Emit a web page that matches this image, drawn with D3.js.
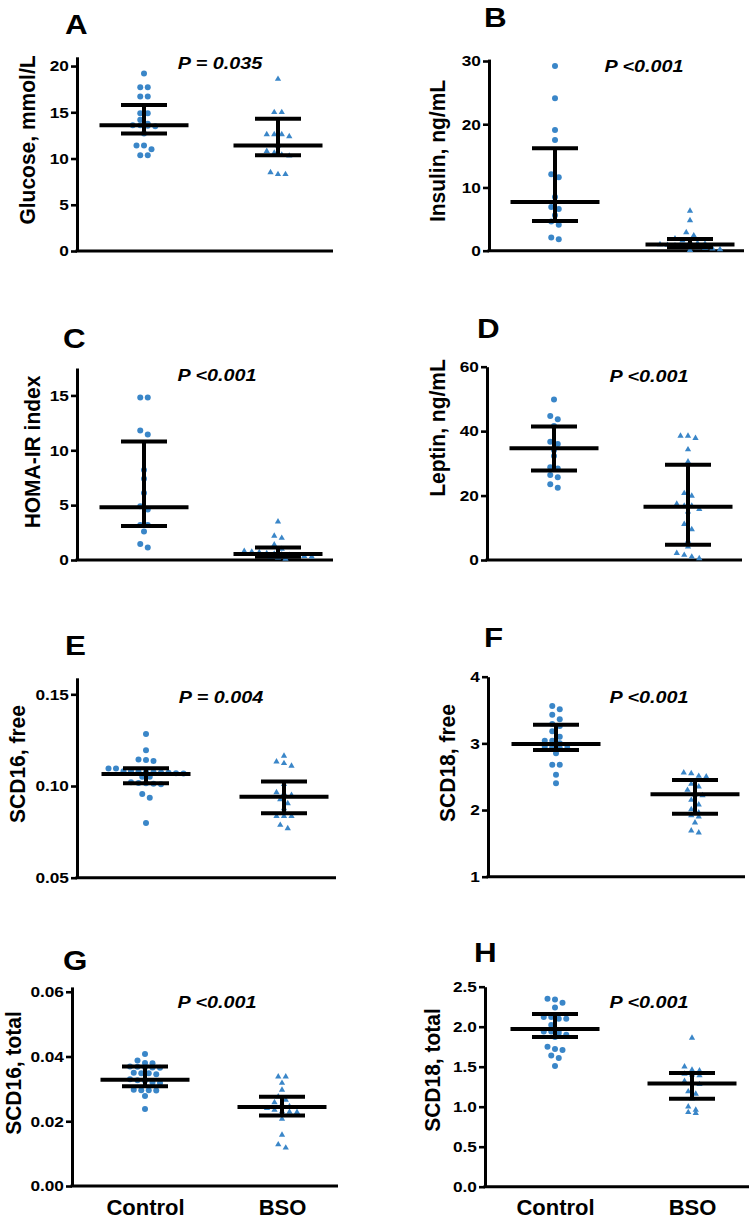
<!DOCTYPE html>
<html><head><meta charset="utf-8">
<script src="https://cdn.jsdelivr.net/npm/d3@7"></script>
<style>
body{margin:0;background:#fff}
svg{display:block}
text{font-family:"Liberation Sans",Arial,Helvetica,sans-serif;font-weight:bold;fill:#000}
</style>
</head><body>
<svg id="chart" width="754" height="1219"></svg>
<script>
// ---------- DATA ----------
const groups = ["Control", "BSO"];
const panelLetters = ["A", "B", "C", "D", "E", "F", "G", "H"];
const yTitles = ["Glucose, mmol/L", "Insulin, ng/mL", "HOMA-IR index", "Leptin, ng/mL",
                 "SCD16, free", "SCD18, free", "SCD16, total", "SCD18, total"];
const pTexts = ["P = 0.035", "P <0.001", "P <0.001", "P <0.001",
                "P = 0.004", "P <0.001", "P <0.001", "P <0.001"];
const yDomains = [[0, 21], [0, 30.3], [0, 17.5], [0, 60], [0.05, 0.159], [1, 4], [0, 0.0615], [0, 2.5]];
const yTickValues = [[0, 5, 10, 15, 20], [0, 10, 20, 30], [0, 5, 10, 15], [0, 20, 40, 60],
                     [0.05, 0.10, 0.15], [1, 2, 3, 4], [0, 0.02, 0.04, 0.06], [0, 0.5, 1.0, 1.5, 2.0, 2.5]];
const yTickFormats = ["d", "d", "d", "d", ".2f", "d", ".2f", ".1f"];

// Individual values, Control / BSO
const glucoseControl = [19.2, 17.7, 17.7, 16.7, 16.7, 14.9, 14.9, 14.2, 13.75, 13.6, 13.55, 13.6, 13.5, 12.7, 11.4, 11.4, 11.0, 10.35, 10.35];
const glucoseBSO = [18.6, 15.0, 15.0, 12.6, 12.6, 12.6, 12.4, 11.4, 10.8, 10.6, 10.4, 10.3, 8.5, 8.3, 8.3];
const insulinControl = [29.2, 24.1, 19.1, 17.5, 12.1, 11.6, 8.5, 6.9, 6.6, 5.6, 4.6, 4.1, 2.1, 1.8];
const insulinBSO = [6.3, 4.8, 2.9, 2.4, 1.9, 1.6, 1.4, 1.2, 1.1, 1.0, 0.9, 0.8, 0.7, 0.6, 0.5, 0.4, 0.3, 0.2, 0.1];
const homaControl = [14.8, 14.8, 11.8, 11.45, 8.2, 7.4, 6.1, 4.9, 4.6, 3.2, 3.2, 2.6, 1.45, 1.15];
const homaBSO = [3.5, 2.2, 2.0, 1.4, 1.0, 0.8, 0.75, 0.7, 0.6, 0.55, 0.5, 0.45, 0.4, 0.35, 0.3, 0.25, 0.2, 0.1];
const leptinControl = [49.8, 44.7, 43.7, 41.6, 36.7, 36.0, 34.1, 32.3, 28.8, 28.4, 26.4, 25.7, 23.5, 22.4];
const leptinBSO = [38.5, 38.5, 37.8, 34.3, 30.5, 20.7, 19.9, 17.4, 16.8, 16.8, 15.8, 15.0, 11.1, 9.5, 5.9, 4.1, 2.1, 1.55, 1.0, 0.5];
const scd16FreeControl = [0.1284, 0.1195, 0.1145, 0.1142, 0.1136, 0.1096, 0.1096, 0.1080, 0.1080, 0.1078, 0.1077, 0.1075, 0.1074, 0.1072, 0.1070, 0.1068, 0.1050, 0.1050, 0.1020, 0.1017, 0.1015, 0.1012, 0.1010, 0.0956, 0.0936, 0.0798];
const scd16FreeBSO = [0.1164, 0.1133, 0.1124, 0.1110, 0.1010, 0.0965, 0.0960, 0.0950, 0.0927, 0.0905, 0.0878, 0.0836, 0.0836, 0.0836, 0.0787, 0.0769];
const scd18FreeControl = [3.56, 3.51, 3.43, 3.36, 3.29, 3.26, 3.18, 3.10, 3.04, 3.04, 3.00, 2.97, 2.95, 2.94, 2.93, 2.92, 2.85, 2.68, 2.68, 2.53, 2.40];
const scd18FreeBSO = [2.56, 2.55, 2.51, 2.50, 2.39, 2.35, 2.30, 2.23, 2.22, 2.15, 2.08, 2.01, 1.96, 1.92, 1.90, 1.81, 1.69, 1.66];
const scd16TotalControl = [0.0408, 0.0388, 0.0380, 0.0379, 0.0369, 0.0368, 0.0367, 0.0366, 0.0365, 0.0350, 0.0348, 0.0348, 0.0345, 0.0330, 0.0327, 0.0325, 0.0320, 0.0318, 0.0297, 0.0296, 0.0296, 0.0295, 0.0278, 0.0238];
const scd16TotalBSO = [0.0338, 0.0338, 0.0318, 0.0297, 0.0276, 0.0266, 0.0258, 0.0252, 0.0246, 0.0240, 0.0235, 0.0230, 0.0229, 0.0228, 0.0207, 0.0158, 0.0128, 0.0118];
const scd18TotalControl = [2.35, 2.34, 2.30, 2.24, 2.12, 2.12, 2.10, 2.10, 2.02, 1.96, 1.94, 1.94, 1.92, 1.90, 1.87, 1.75, 1.72, 1.71, 1.64, 1.61, 1.51];
const scd18TotalBSO = [1.86, 1.50, 1.46, 1.45, 1.41, 1.40, 1.39, 1.32, 1.30, 1.28, 1.19, 1.16, 1.10, 1.00, 0.96, 0.93, 0.92];

// Summary lines: [median, lower, upper] for Control and BSO
const summaryControl = [[13.6, 12.7, 15.8], [7.7, 4.7, 16.2], [4.8, 3.1, 10.8], [34.7, 27.8, 41.4],
                        [0.1065, 0.1015, 0.1097], [2.99, 2.90, 3.28], [0.0328, 0.0308, 0.0369], [1.97, 1.87, 2.16]];
const summaryBSO = [[11.4, 10.35, 14.3], [1.0, 0.55, 1.85], [0.55, 0.3, 1.15], [16.5, 4.7, 29.6],
                    [0.0942, 0.0851, 0.1024], [2.235, 1.945, 2.45], [0.0244, 0.0218, 0.0276], [1.29, 1.10, 1.42]];

const controlValues = [glucoseControl, insulinControl, homaControl, leptinControl,
                       scd16FreeControl, scd18FreeControl, scd16TotalControl, scd18TotalControl];
const bsoValues = [glucoseBSO, insulinBSO, homaBSO, leptinBSO,
                   scd16FreeBSO, scd18FreeBSO, scd16TotalBSO, scd18TotalBSO];

// ---------- LAYOUT (pixels) ----------
const layout = [
  {ax: 77,  axEnd: 333, c0: 144, c1: 278, yBot: 251,   yTop: 56.8,  lx: 65,  ly: 34,  px: 220, py: 68.5, tx: 35,  ty: 140},
  {ax: 489, axEnd: 744, c0: 555, c1: 690, yBot: 250.7, yTop: 59.1,  lx: 484, ly: 27,  px: 644, py: 72,   tx: 445, ty: 151},
  {ax: 77,  axEnd: 333, c0: 144, c1: 278, yBot: 560,   yTop: 368,   lx: 63,  ly: 348, px: 217, py: 381,  tx: 40,  ty: 452},
  {ax: 487, axEnd: 742, c0: 554, c1: 688, yBot: 560,   yTop: 366.7, lx: 477, ly: 338, px: 649, py: 382,  tx: 445, ty: 428},
  {ax: 77,  axEnd: 336, c0: 146, c1: 284, yBot: 877.7, yTop: 677.8, lx: 65,  ly: 655, px: 221, py: 703,  tx: 25,  ty: 764},
  {ax: 488, axEnd: 745, c0: 556, c1: 695, yBot: 876.7, yTop: 676.7, lx: 484, ly: 647, px: 649, py: 703,  tx: 455, ty: 763},
  {ax: 72,  axEnd: 338, c0: 145, c1: 282, yBot: 1186,  yTop: 986.9, lx: 63,  ly: 970, px: 217, py: 1008, tx: 21,  ty: 1073},
  {ax: 485, axEnd: 749, c0: 555, c1: 692, yBot: 1186.7,yTop: 986.7, lx: 474, ly: 962, px: 649, py: 1008, tx: 440, ty: 1070}
];

const dotColor = "#3a86c8";
const svg = d3.select("#chart");

// group points into rows by pixel proximity, then center each row (scatter dot plot)
function swarm(values, y, cx, step, thresh) {
  const pts = values.map(v => ({v, py: y(v)})).sort((a, b) => a.py - b.py);
  const rows = [];
  pts.forEach(p => {
    const r = rows[rows.length - 1];
    if (r && p.py - r[0].py < thresh) r.push(p); else rows.push([p]);
  });
  rows.forEach(r => r.forEach((p, i) => { p.px = cx + (i - (r.length - 1) / 2) * step; }));
  return pts;
}

panelLetters.forEach((letter, i) => {
  const L = layout[i];
  const g = svg.append("g");
  const y = d3.scaleLinear().domain(yDomains[i]).range([L.yBot, L.yTop]);
  const x = d3.scalePoint().domain(groups).range([L.c0, L.c1]);

  // panel letter
  g.append("text").attr("transform", `translate(${L.lx},${L.ly}) scale(1.12,1)`)
    .attr("font-size", 28).text(letter);

  // y axis
  const yAxis = d3.axisLeft(y).tickValues(yTickValues[i])
    .tickFormat(d3.format(yTickFormats[i])).tickSize(6).tickSizeOuter(0).tickPadding(1);
  const yg = g.append("g").attr("transform", `translate(${L.ax},0)`).call(yAxis);
  yg.select(".domain").attr("stroke", "#000").attr("stroke-width", 3);
  yg.selectAll(".tick line").attr("stroke", "#000").attr("stroke-width", 2.6);
  yg.selectAll(".tick text").attr("font-size", 15).attr("font-family", null)
    .attr("fill", "#000").attr("transform", "scale(1.15,1)");

  // x axis line
  g.append("line").attr("x1", L.ax - 1.5).attr("x2", L.axEnd)
    .attr("y1", L.yBot).attr("y2", L.yBot).attr("stroke", "#000").attr("stroke-width", 3);

  // category labels (bottom row only)
  if (i >= 6) {
    const xAxis = d3.axisBottom(x).tickSize(0).tickPadding(13);
    const xg = g.append("g").attr("transform", `translate(0,${L.yBot})`).call(xAxis);
    xg.select(".domain").remove();
    xg.selectAll(".tick text").attr("font-size", 22).attr("font-family", null).attr("fill", "#000");
  }

  // y title
  g.append("text").attr("transform", `translate(${L.tx},${L.ty}) rotate(-90) scale(1,1.08)`)
    .attr("text-anchor", "middle").attr("font-size", 21).text(yTitles[i]);

  // P value
  g.append("text").attr("transform", `translate(${L.px},${L.py}) scale(1.2,1)`)
    .attr("text-anchor", "middle").attr("font-size", 16.5).attr("font-style", "italic")
    .text(pTexts[i]);

  // points
  const ctrlPts = swarm(controlValues[i], y, x("Control"), 7.5, 5.5);
  const bsoPts = swarm(bsoValues[i], y, x("BSO"), 7.5, 5.5);
  g.append("g").selectAll("circle").data(ctrlPts).join("circle")
    .attr("cx", d => d.px).attr("cy", d => d.py).attr("r", 3).attr("fill", dotColor);
  const tri = d3.symbol().type(d3.symbolTriangle).size(17);
  g.append("g").selectAll("path").data(bsoPts).join("path")
    .attr("d", tri).attr("transform", d => `translate(${d.px},${d.py})`).attr("fill", dotColor);

  // median + range bars
  const summaries = [{grp: "Control", s: summaryControl[i]}, {grp: "BSO", s: summaryBSO[i]}];
  summaries.forEach(({grp, s}) => {
    const cx = x(grp);
    const eb = g.append("g").attr("stroke", "#000").attr("stroke-width", 4);
    eb.append("line").attr("x1", cx - 44.5).attr("x2", cx + 44.5).attr("y1", y(s[0])).attr("y2", y(s[0]));
    eb.append("line").attr("x1", cx - 23).attr("x2", cx + 23).attr("y1", y(s[1])).attr("y2", y(s[1]));
    eb.append("line").attr("x1", cx - 23).attr("x2", cx + 23).attr("y1", y(s[2])).attr("y2", y(s[2]));
    eb.append("line").attr("x1", cx).attr("x2", cx).attr("y1", y(s[1])).attr("y2", y(s[2]));
  });
});
</script>
</body></html>
